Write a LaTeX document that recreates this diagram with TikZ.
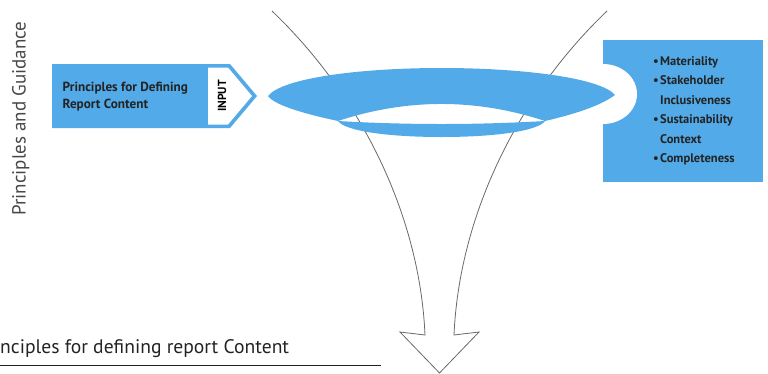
\documentclass[tikz,border=0pt]{standalone}
\usepackage{fontspec}
\setmainfont{PT Sans}
\definecolor{ringblue}{RGB}{82,170,232}
\definecolor{linegray}{RGB}{105,105,105}
\definecolor{txtdark}{RGB}{35,35,35}
\tikzset{
  funnel/.style={draw=linegray, line width=0.8pt, line join=miter},
  blueshape/.style={fill=ringblue},
  boxtext/.style={inner sep=0pt, anchor=base west, text=txtdark, font=\bfseries\fontsize{13.2}{16}\selectfont},
  listtext/.style={inner sep=0pt, anchor=base west, text=txtdark, font=\bfseries\fontsize{12.5}{15}\selectfont},
  sidetext/.style={inner sep=0pt, text=black!72, font=\fontsize{19}{19}\selectfont},
  captext/.style={inner sep=0pt, text=txtdark, font=\fontsize{19.6}{19.6}\selectfont}
}
\begin{document}
\begin{tikzpicture}[x=1pt,y=-1pt]
\useasboundingbox (0,0) rectangle (768,373);
% funnel arrow
\coordinate (lt) at (272,11);
\coordinate (rt) at (607,11);
\coordinate (ls) at (425,335);
\coordinate (rs) at (454,335);
\coordinate (lb) at (400,332);
\coordinate (rb) at (479,332);
\coordinate (tip) at (439.5,373);
\draw[funnel] (lt) .. controls (365,100) and (420,220) .. (ls) -- (lb) -- (tip) -- (rb) -- (rs) .. controls (459,220) and (514,100) .. (rt);
% right box with notch
\coordinate (rbox1) at (603,40);
\coordinate (rbox2) at (763,182);
\fill[blueshape] (rbox1) rectangle (rbox2);
\fill[white] (603,64) arc[start angle=-90, end angle=90, x radius=34, y radius=30] -- cycle;
% ring
\fill[blueshape] (268,96) .. controls (282,78) and (360,68) .. (441.5,68)
  .. controls (523,68) and (601,78) .. (615,95)
  .. controls (600,106) and (575,114) .. (545,121)
  .. controls (476,98.3) and (407,98.3) .. (338,121)
  .. controls (310,115) and (275,106) .. (268,96) -- cycle;
\fill[blueshape] (338,121) .. controls (407,125) and (476,125) .. (545,121)
  .. controls (538,131) and (495,137) .. (441.5,137)
  .. controls (388,137) and (345,131) .. (338,121) -- cycle;
% left input arrow
\fill[blueshape] (52,64) -- (230,64) -- (257,96) -- (230,128) -- (52,128) -- cycle;
\fill[white] (208,67.5) -- (228,67.5) -- (252,96) -- (228,124.5) -- (208,124.5) -- cycle;
\node[boxtext] (pdef1) at (62.5,91) {Principles for Defining};
\node[boxtext] (pdef2) at (62.5,108.5) {Report Content};
\node[inner sep=0pt, text=black, rotate=90, font=\bfseries\fontsize{11.7}{11.7}\selectfont] (input) at (222,96) {INPUT};
% list
\node[listtext] (m1) at (653,65) {•};
\node[listtext] (t1) at (660,65) {Materiality};
\node[listtext] (m2) at (653,84.5) {•};
\node[listtext] (t2) at (660,84.5) {Stakeholder};
\node[listtext] (t3) at (660,104) {Inclusiveness};
\node[listtext] (m4) at (653,123.5) {•};
\node[listtext] (t4) at (660,123.5) {Sustainability};
\node[listtext] (t5) at (660,143) {Context};
\node[listtext] (m6) at (653,162.5) {•};
\node[listtext] (t6) at (660,162.5) {Completeness};
% side label
\node[sidetext, rotate=90, anchor=base west] (side) at (25.5,216) {Principles and Guidance};
% caption
\node[captext, anchor=base west] (cap) at (0,353) {nciples for defining report Content};
\coordinate (ul1) at (0,365.5);
\coordinate (ul2) at (381,365.5);
\draw[line width=1.1pt, txtdark] (ul1) -- (ul2);
\end{tikzpicture}
\end{document}
